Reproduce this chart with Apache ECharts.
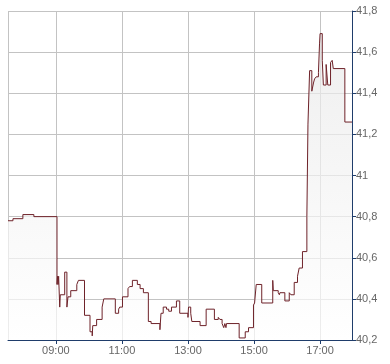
<!DOCTYPE html>
<html><head><meta charset="utf-8">
<script src="https://cdn.jsdelivr.net/npm/echarts@6/dist/echarts.min.js"></script>
<style>html,body{margin:0;padding:0;background:#fff}#c{width:390px;height:364px}</style>
</head><body><div id="c"></div>
<script>
const times = ['07:33','07:42','08:00','08:20','09:02','09:03','09:04','09:05','09:07','09:08','09:16','09:20','09:22','09:27','09:38','09:41','09:52','10:02','10:06','10:07','10:14','10:24','10:27','10:48','10:54','10:56','11:01','11:11','11:14','11:19','11:28','11:33','11:39','11:48','11:53','12:09','12:11','12:15','12:21','12:25','12:30','12:39','12:45','13:00','13:01','13:05','13:07','13:22','13:33','13:48','13:55','13:58','14:02','14:05','14:07','14:09','14:10','14:33','14:44','14:50','14:59','15:01','15:04','15:14','15:34','15:35','15:44','15:46','15:47','15:56','16:04','16:07','16:13','16:19','16:22','16:28','16:36','16:38','16:41','16:45','16:48','16:50','16:53','16:57','16:59','17:00','17:04','17:06','17:11','17:14','17:19','17:22','17:24','17:45','17:58'];
const values = [40.78,40.79,40.81,40.80,40.47,40.51,40.47,40.51,40.36,40.42,40.53,40.36,40.41,40.44,40.47,40.49,40.32,40.24,40.22,40.27,40.30,40.36,40.40,40.33,40.35,40.36,40.41,40.45,40.46,40.49,40.47,40.45,40.43,40.29,40.28,40.25,40.33,40.36,40.35,40.34,40.36,40.39,40.33,40.31,40.36,40.33,40.29,40.27,40.35,40.30,40.31,40.30,40.28,40.26,40.28,40.26,40.28,40.21,40.24,40.26,40.37,40.38,40.47,40.38,40.49,40.44,40.43,40.42,40.43,40.39,40.43,40.42,40.48,40.51,40.55,40.63,40.80,41.25,41.51,41.41,41.45,41.47,41.48,41.50,41.64,41.69,41.56,41.44,41.54,41.44,41.55,41.56,41.52,41.26,41.26];
const tickLabels = ['09:00','11:00','13:00','15:00','17:00'];
const axisStart = '07:33', axisEnd = '17:58';
const yMin = 40.2, yMax = 41.8, yStep = 0.2;

function toMin(s){const p=s.split(':').map(Number);return p[0]*60+p[1];}
function fmt(m){return String(Math.floor(m/60)).padStart(2,'0')+':'+String(m%60).padStart(2,'0');}
const categories=[];
for(let m=toMin(axisStart);m<=toMin(axisEnd);m++) categories.push(fmt(m));
const data = times.map((t,i)=>[categories.indexOf(t), values[i]]);

const navy = '#1f3d6b', grid = '#c3c3c3', txt = '#666666';
const chart = echarts.init(document.getElementById('c'), null, {renderer:'canvas'});
chart.setOption({
  animation:false,
  backgroundColor:'#ffffff',
  grid:{left:8,right:38,top:11,bottom:24,containLabel:false},
  xAxis:{
    type:'category', data:categories, boundaryGap:false,
    axisLine:{show:true,lineStyle:{color:navy,width:1}},
    axisTick:{show:true,length:4,lineStyle:{color:navy},interval:(i,v)=>tickLabels.includes(v)},
    axisLabel:{interval:(i,v)=>tickLabels.includes(v),color:txt,fontSize:11,fontFamily:'Liberation Sans, Arial, sans-serif',margin:5},
    splitLine:{show:true,interval:(i,v)=>i===0||tickLabels.includes(v),lineStyle:{color:grid,width:1}}
  },
  yAxis:{
    type:'value', position:'right', min:yMin, max:yMax, interval:yStep,
    axisLine:{show:true,lineStyle:{color:navy,width:1}},
    axisTick:{show:true,length:4,lineStyle:{color:navy}},
    axisLabel:{color:txt,fontSize:11,fontFamily:'Liberation Sans, Arial, sans-serif',margin:4,
      formatter:v=>String(Math.round(v*10)/10).replace('.',',')},
    splitLine:{show:true,lineStyle:{color:grid,width:1}}
  },
  series:[{
    type:'line', step:'end', showSymbol:false, symbol:'none', data:data,
    lineStyle:{color:'#6e2229',width:1},
    areaStyle:{origin:'start',color:new echarts.graphic.LinearGradient(0,0,0,1,[{offset:0,color:'#e8e8e8'},{offset:1,color:'#ffffff'}])}
  }]
});
</script></body></html>
